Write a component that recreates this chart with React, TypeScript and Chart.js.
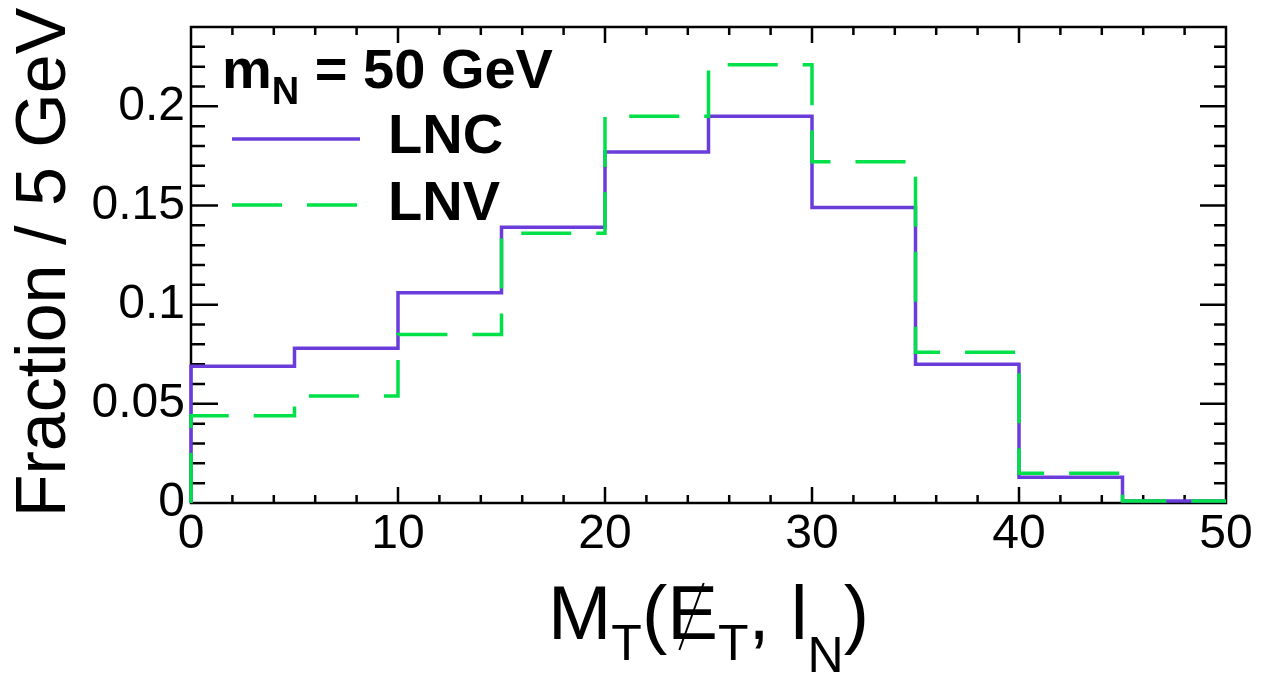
import { useEffect, useRef } from 'react';
import { Chart, registerables } from 'chart.js';

Chart.register(...registerables);

// ---- data ----
const binEdges = [0, 5, 10, 15, 20, 25, 30, 35, 40, 45, 50];
const lncValues = [0.069, 0.078, 0.106, 0.139, 0.177, 0.195, 0.149, 0.070, 0.013, 0.001];
const lnvValues = [0.044, 0.054, 0.085, 0.136, 0.195, 0.221, 0.172, 0.076, 0.015, 0.001];
const xTickValues = [0, 10, 20, 30, 40, 50];
const yTickValues = [0, 0.05, 0.1, 0.15, 0.2];
const seriesNames = ['LNC', 'LNV'];
const yTitle = 'Fraction / 5 GeV';

const X_MIN = 0;
const X_MAX = 50;
const Y_MIN = 0;
const Y_MAX = 0.24;
const X_MINOR = 2;
const X_MAJOR = 10;
const Y_MINOR = 0.01;
const Y_MAJOR_EVERY = 5;

const LNC_COLOR = '#6a3ddb';
const LNV_COLOR = '#00e048';
const FONT = "'Liberation Sans', Arial, Helvetica, sans-serif";

function histPoints(values: number[]) {
  const pts = [{ x: binEdges[0], y: 0 }];
  values.forEach((v, i) => pts.push({ x: binEdges[i + 1], y: v }));
  return pts;
}

const framePlugin = {
  id: 'rootFrame',
  beforeDatasetsDraw(chart: any) {
    const { ctx, chartArea: a, scales } = chart;
    const x = scales.x;
    const y = scales.y;
    ctx.save();
    ctx.strokeStyle = '#000';
    ctx.lineWidth = 2.5;
    ctx.beginPath();
    const nx = Math.round((X_MAX - X_MIN) / X_MINOR);
    for (let i = 1; i < nx; i++) {
      const v = X_MIN + i * X_MINOR;
      const px = x.getPixelForValue(v);
      const major = Math.abs(v % X_MAJOR) < 1e-9;
      const len = major ? 16 : 8;
      ctx.moveTo(px, a.bottom);
      ctx.lineTo(px, a.bottom - len);
      ctx.moveTo(px, a.top);
      ctx.lineTo(px, a.top + len);
    }
    const ny = Math.round((Y_MAX - Y_MIN) / Y_MINOR);
    for (let i = 1; i < ny; i++) {
      const v = Y_MIN + i * Y_MINOR;
      const py = y.getPixelForValue(v);
      const major = i % Y_MAJOR_EVERY === 0;
      const lenL = major ? 27 : 14;
      const lenR = major ? 26 : 12;
      ctx.moveTo(a.left, py);
      ctx.lineTo(a.left + lenL, py);
      ctx.moveTo(a.right, py);
      ctx.lineTo(a.right - lenR, py);
    }
    ctx.stroke();
    ctx.lineWidth = 2.5;
    ctx.strokeRect(a.left, a.top, a.right - a.left, a.bottom - a.top);
    ctx.restore();
  },
};

const textPlugin = {
  id: 'rootText',
  afterDraw(chart: any) {
    const { ctx, chartArea: a } = chart;
    ctx.save();
    ctx.fillStyle = '#000';
    ctx.textBaseline = 'alphabetic';

    // Y title (rotated)
    ctx.save();
    ctx.translate(65, (a.top + a.bottom) / 2 - 2.5);
    ctx.rotate(-Math.PI / 2);
    ctx.font = `70px ${FONT}`;
    ctx.textAlign = 'center';
    ctx.fillText(yTitle, 0, 0);
    ctx.restore();

    // X title: M_T(E̸_T, l_N)
    ctx.textAlign = 'left';
    const mainF = `76px ${FONT}`;
    const subF = `50px ${FONT}`;
    const base = 639;
    const parts: { t: string; f: string; dy: number; slash?: boolean }[] = [
      { t: 'M', f: mainF, dy: 0 },
      { t: 'T', f: subF, dy: 21 },
      { t: '(', f: mainF, dy: 0 },
      { t: 'E', f: mainF, dy: 0, slash: true },
      { t: 'T', f: subF, dy: 21 },
      { t: ', ', f: mainF, dy: 0 },
      { t: 'l', f: mainF, dy: 0 },
      { t: 'N', f: subF, dy: 33 },
      { t: ')', f: mainF, dy: 0 },
    ];
    let total = 0;
    for (const p of parts) {
      ctx.font = p.f;
      total += ctx.measureText(p.t).width;
    }
    let cx = (a.left + a.right) / 2 - total / 2;
    for (const p of parts) {
      ctx.font = p.f;
      const w = ctx.measureText(p.t).width;
      ctx.fillText(p.t, cx, base + p.dy);
      if (p.slash) {
        ctx.save();
        ctx.lineWidth = 2;
        ctx.strokeStyle = '#000';
        ctx.beginPath();
        ctx.moveTo(cx + 0.72 * w, base - 56);
        ctx.lineTo(cx + 0.24 * w, base + 11);
        ctx.stroke();
        ctx.restore();
      }
      cx += w;
    }

    // Legend header: m_N = 50 GeV
    let lx = 222;
    ctx.font = `bold 56px ${FONT}`;
    ctx.fillText('m', lx, 88);
    lx += ctx.measureText('m').width;
    ctx.font = `bold 38px ${FONT}`;
    ctx.fillText('N', lx, 104);
    lx += ctx.measureText('N').width;
    ctx.font = `bold 56px ${FONT}`;
    ctx.fillText(' = 50 GeV', lx, 88);

    // Legend entries
    ctx.lineWidth = 3.5;
    ctx.strokeStyle = LNC_COLOR;
    ctx.beginPath();
    ctx.moveTo(232, 139);
    ctx.lineTo(360, 139);
    ctx.stroke();
    ctx.strokeStyle = LNV_COLOR;
    ctx.setLineDash([50, 25]);
    ctx.beginPath();
    ctx.moveTo(232, 205);
    ctx.lineTo(360, 205);
    ctx.stroke();
    ctx.setLineDash([]);
    ctx.font = `bold 56px ${FONT}`;
    ctx.fillText(seriesNames[0], 388, 153);
    ctx.fillText(seriesNames[1], 388, 220);
    ctx.restore();
  },
};

export default function App() {
  const ref = useRef<HTMLCanvasElement | null>(null);

  useEffect(() => {
    if (!ref.current) return;
    const chart = new Chart(ref.current, {
      type: 'line',
      data: {
        datasets: [
          {
            label: seriesNames[1],
            data: histPoints(lnvValues),
            borderColor: LNV_COLOR,
            borderWidth: 3.5,
            borderDash: [50, 25],
            stepped: 'after',
            pointRadius: 0,
            fill: false,
            order: 0,
            clip: false as any,
          },
          {
            label: seriesNames[0],
            data: histPoints(lncValues),
            borderColor: LNC_COLOR,
            borderWidth: 3.5,
            stepped: 'after',
            pointRadius: 0,
            fill: false,
            order: 1,
            clip: false as any,
          },
        ],
      },
      options: {
        animation: false,
        responsive: true,
        maintainAspectRatio: false,
        layout: { padding: { left: 0, top: 27, right: 52, bottom: 0 }, autoPadding: false },
        plugins: { legend: { display: false }, tooltip: { enabled: false } },
        scales: {
          x: {
            type: 'linear',
            min: X_MIN,
            max: X_MAX,
            grid: { display: false, drawTicks: false },
            border: { display: false },
            afterBuildTicks: (s: any) => {
              s.ticks = xTickValues.map((v) => ({ value: v }));
            },
            afterFit: (s: any) => {
              s.height = 179;
              s.paddingLeft = 0;
              s.paddingRight = 0;
            },
            ticks: {
              color: '#000',
              padding: 3,
              maxRotation: 0,
              autoSkip: false,
              font: { family: FONT, size: 48 },
              callback: (v: any) => String(v),
            },
          },
          y: {
            type: 'linear',
            min: Y_MIN,
            max: Y_MAX,
            grid: { display: false, drawTicks: false },
            border: { display: false },
            afterBuildTicks: (s: any) => {
              s.ticks = yTickValues.map((v) => ({ value: v }));
            },
            afterFit: (s: any) => {
              s.width = 191;
              s.paddingTop = 0;
              s.paddingBottom = 0;
            },
            ticks: {
              color: '#000',
              padding: 6,
              autoSkip: false,
              font: { family: FONT, size: 48 },
              callback: (v: any) => String(v),
            },
          },
        },
      },
      plugins: [framePlugin, textPlugin],
    });
    return () => chart.destroy();
  }, []);

  return (
    <div
      style={{
        position: 'fixed',
        left: 0,
        top: 0,
        width: 1278,
        height: 682,
        background: '#fff',
      }}
    >
      <canvas ref={ref} />
    </div>
  );
}
